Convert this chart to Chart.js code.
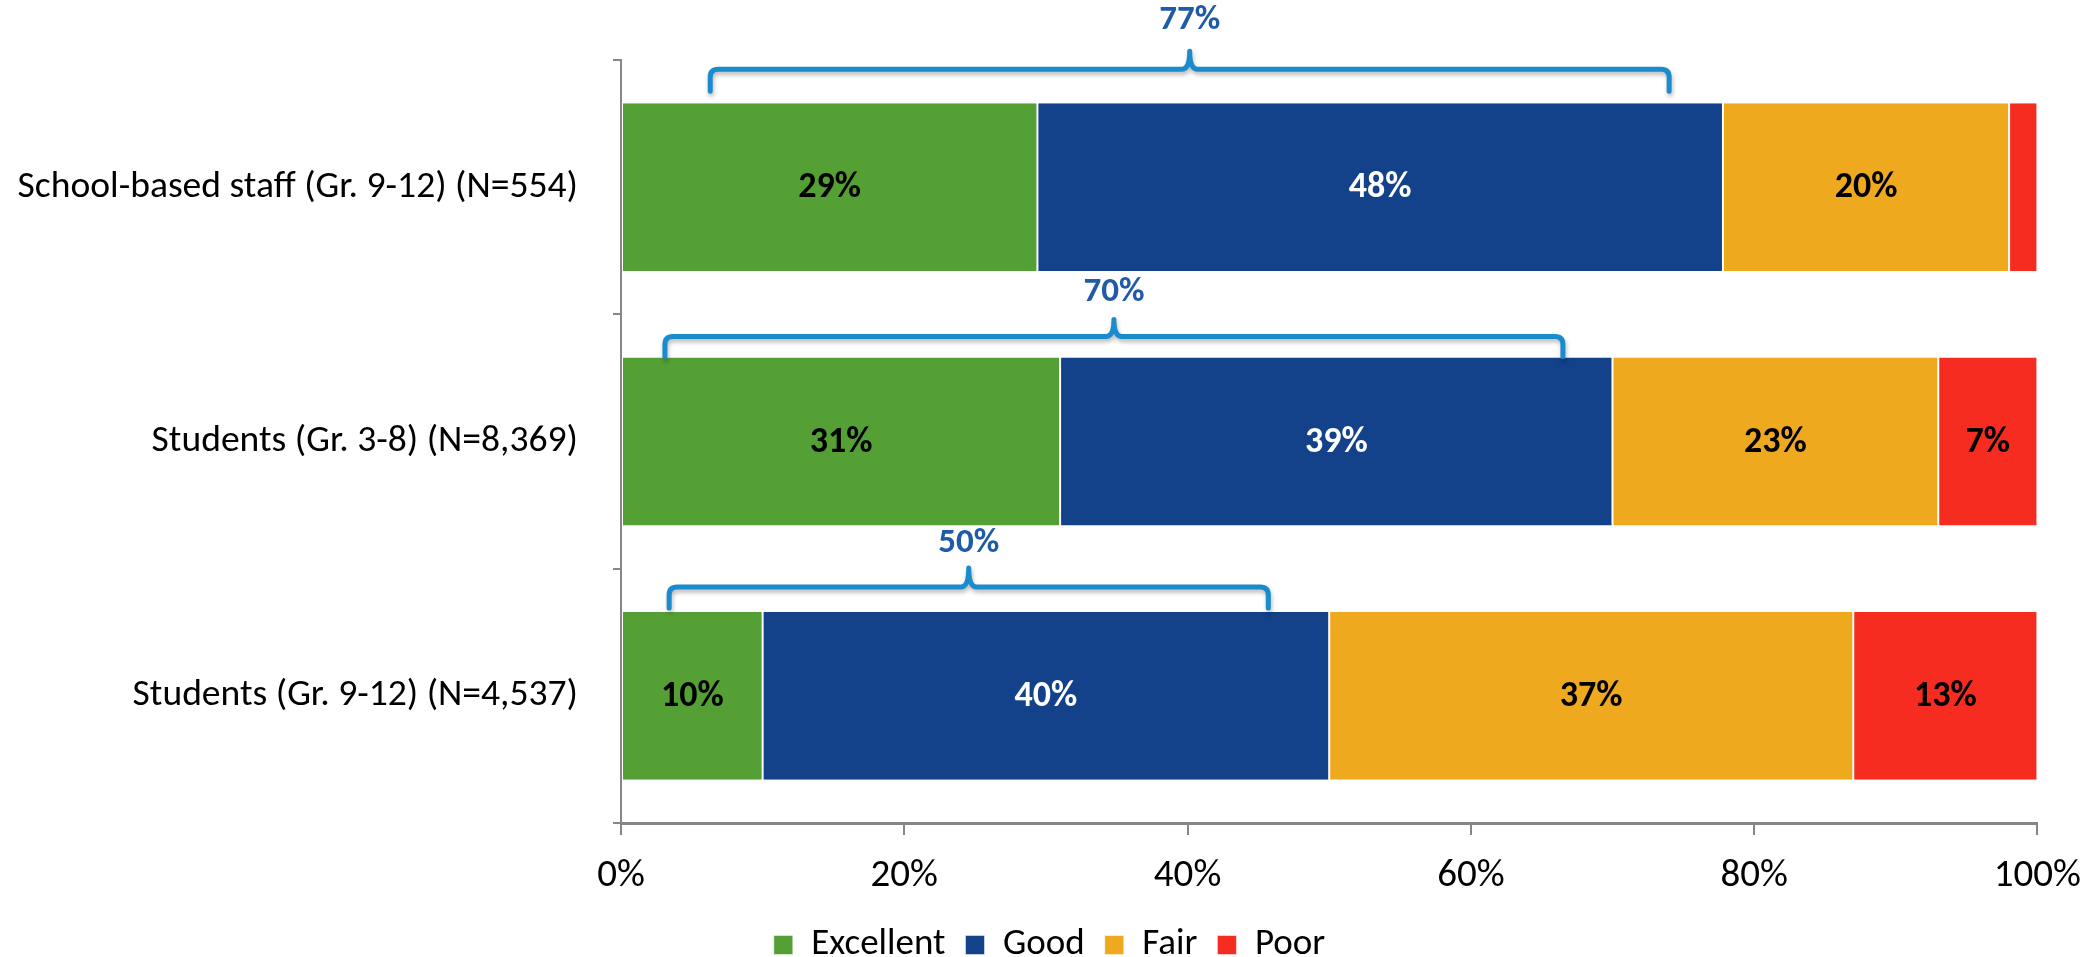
<!DOCTYPE html>
<html>
<head>
<meta charset="utf-8">
<script src="https://cdn.jsdelivr.net/npm/chart.js@4.4.1/dist/chart.umd.min.js"></script>
<style>
  html,body{margin:0;padding:0;background:#fff;overflow:hidden;}
  #wrap{width:2099px;height:957px;position:relative;}
</style>
</head>
<body>
<div id="wrap"><canvas id="chart"></canvas></div>
<script>
/* Ratings by group - stacked horizontal bars */
const groups = ['School-based staff (Gr. 9-12) (N=554)', 'Students (Gr. 3-8) (N=8,369)', 'Students (Gr. 9-12) (N=4,537)'];
const excellent = [29.4, 31, 10];
const good      = [48.4, 39, 40];
const fair      = [20.2, 23, 37];
const poor      = [2, 7, 13];
const xTicks    = [0, 20, 40, 60, 80, 100];
// "Excellent + Good" braces over each bar
const braceLabels = ['77%', '70%', '50%'];
const braceFrom   = [6.3, 3.1, 3.4];
const braceTo     = [74, 66.5, 45.7];

const FONT = 'Carlito, Calibri, Lato, sans-serif';
const colors = {excellent:'#55A035', good:'#13418A', fair:'#EFA91E', poor:'#F72C21'};

const segLabels = {
  id:'segLabels',
  afterDatasetsDraw(chart){
    const ctx = chart.ctx;
    ctx.save();
    ctx.font = 'bold 36px ' + FONT;
    ctx.textAlign = 'center';
    ctx.textBaseline = 'middle';
    chart.data.datasets.forEach((ds, di) => {
      const meta = chart.getDatasetMeta(di);
      meta.data.forEach((el, i) => {
        const v = ds.data[i];
        if (v < 5) return;
        const cx = (el.x + el.base) / 2;
        ctx.fillStyle = ds.labelColor;
        ctx.fillText(Math.round(v) + '%', cx, el.y + 1);
      });
    });
    ctx.restore();
  }
};

const braces = {
  id:'braces',
  afterDatasetsDraw(chart, args, opts){
    const ctx = chart.ctx, xs = chart.scales.x;
    const meta = chart.getDatasetMeta(0);
    ctx.save();
    braceLabels.forEach((lbl, i) => {
      const el = meta.data[i];
      const top = el.y - el.height / 2;
      const g = opts.geom[i];
      const x0 = xs.getPixelForValue(braceFrom[i]);
      const x1 = xs.getPixelForValue(braceTo[i]);
      const xc = (x0 + x1) / 2;
      const yH = top - g.h, yE = top - g.end, yP = top - g.peak;
      const r = 8, r2 = 8;
      ctx.save();
      ctx.shadowColor = 'rgba(0,0,0,0.28)';
      ctx.shadowBlur = 4;
      ctx.shadowOffsetX = 1;
      ctx.shadowOffsetY = 3;
      ctx.strokeStyle = '#1A8BCC';
      ctx.lineWidth = 5;
      ctx.lineJoin = 'round';
      ctx.lineCap = 'round';
      ctx.beginPath();
      ctx.moveTo(x0, yE);
      ctx.lineTo(x0, yH + r);
      ctx.quadraticCurveTo(x0, yH, x0 + r, yH);
      ctx.lineTo(xc - r2, yH);
      ctx.quadraticCurveTo(xc, yH, xc, yP);
      ctx.quadraticCurveTo(xc, yH, xc + r2, yH);
      ctx.lineTo(x1 - r, yH);
      ctx.quadraticCurveTo(x1, yH, x1, yH + r);
      ctx.lineTo(x1, yE);
      ctx.stroke();
      ctx.restore();
      ctx.font = 'bold 35px ' + FONT;
      ctx.fillStyle = '#1F5BA6';
      ctx.textAlign = 'center';
      ctx.textBaseline = 'middle';
      ctx.fillText(lbl, xc, top - g.label);
    });
    ctx.restore();
  }
};

function ds(label, data, color, labelColor){
  return {label, data, backgroundColor:color, borderColor:'#ffffff',
    borderWidth:{left:1, right:1, top:0, bottom:0}, borderSkipped:false,
    barPercentage:0.66, categoryPercentage:1, labelColor};
}

new Chart(document.getElementById('chart'), {
  type:'bar',
  data:{
    labels: groups,
    datasets:[
      ds('Excellent', excellent, colors.excellent, '#000'),
      ds('Good', good, colors.good, '#fff'),
      ds('Fair', fair, colors.fair, '#000'),
      ds('Poor', poor, colors.poor, '#000')
    ]
  },
  options:{
    indexAxis:'y',
    responsive:true,
    maintainAspectRatio:false,
    animation:false,
    layout:{padding:{top:60, right:0, left:0, bottom:-16.5}},
    scales:{
      x:{
        stacked:true, min:0, max:100,
        afterBuildTicks(s){ s.ticks = xTicks.map(v => ({value:v})); },
        afterFit(s){ s.height = 83.5; },
        grid:{drawOnChartArea:false, drawTicks:true, tickLength:12, color:'#868686', lineWidth:2},
        border:{color:'#868686', width:3},
        ticks:{padding:18, color:'#000', font:{family:FONT, size:39}, callback:v => v + '%'}
      },
      y:{
        stacked:true,
        afterFit(s){ s.width = 621; },
        grid:{drawOnChartArea:false, offset:true, tickLength:8, color:'#868686', lineWidth:2},
        border:{color:'#868686', width:2},
        ticks:{padding:35, color:'#000', font:{family:FONT, size:37.6}}
      },
      // empty right-hand margin so the legend centres on the page
      yRight:{
        type:'category', position:'right',
        afterFit(s){ s.width = 55; },
        grid:{display:false}, border:{display:false}, ticks:{display:false}
      }
    },
    plugins:{
      legend:{
        position:'bottom',
        labels:{boxWidth:19, boxHeight:19, padding:20, color:'#000', font:{family:FONT, size:37}}
      },
      tooltip:{enabled:false},
      braces:{geom:[
        {h:34, end:12, peak:52, label:83},
        {h:21, end:1, peak:38, label:65},
        {h:25, end:4, peak:44, label:69}
      ]}
    }
  },
  plugins:[segLabels, braces]
});
</script>
</body>
</html>
